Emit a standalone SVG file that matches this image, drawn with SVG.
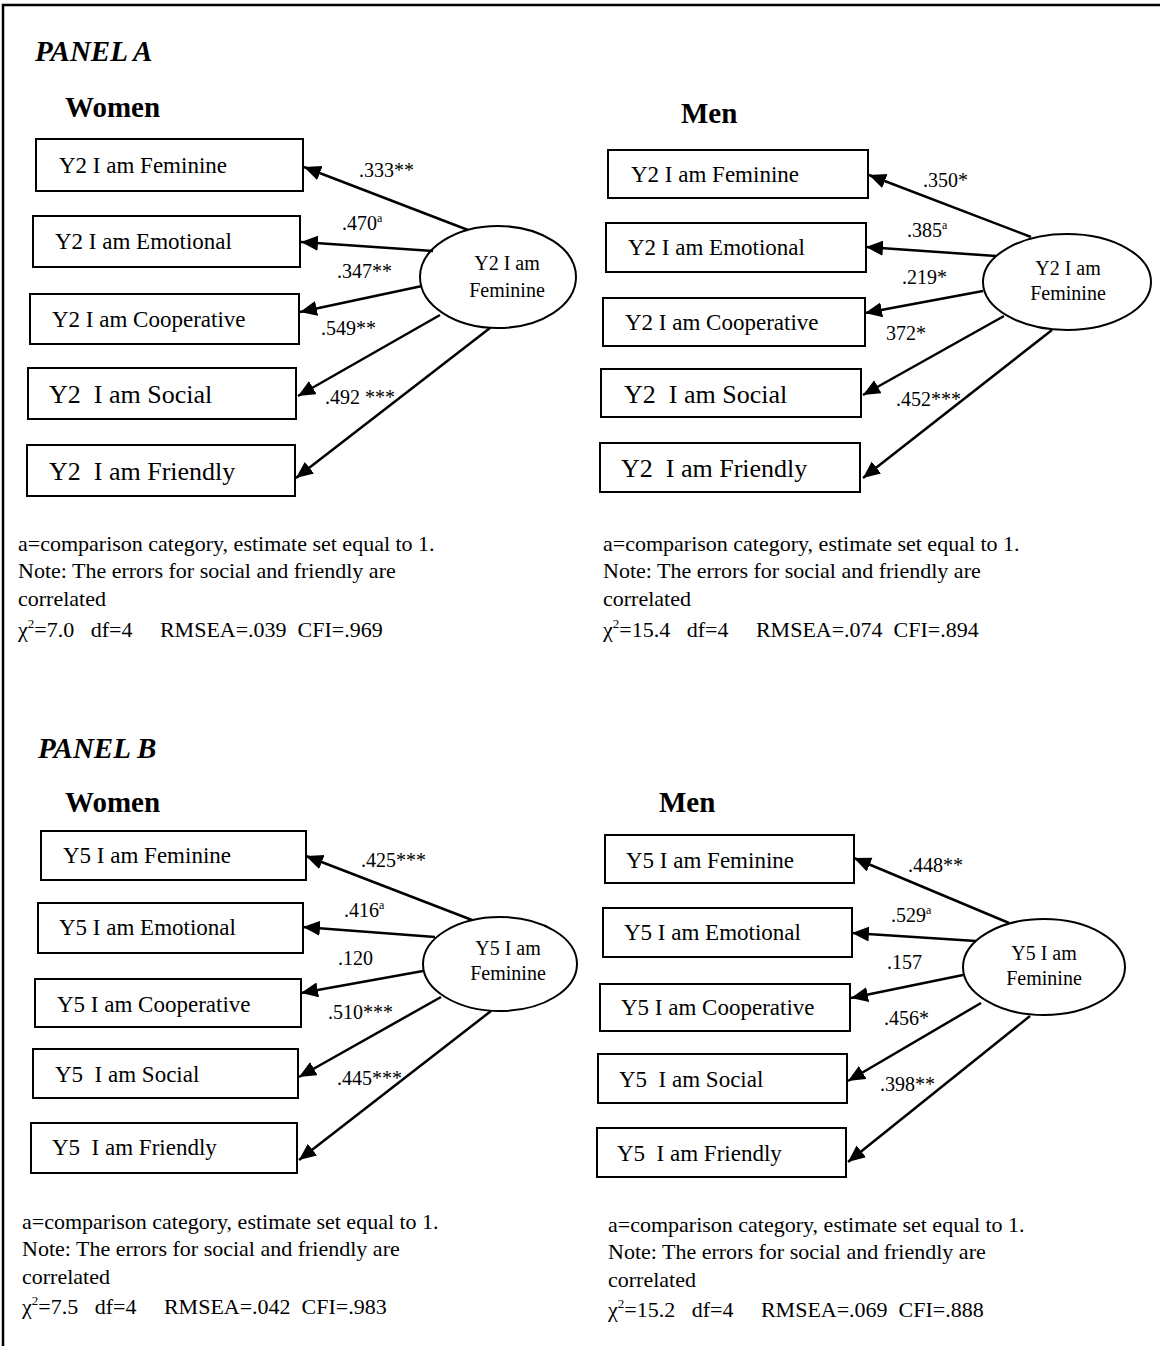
<svg xmlns="http://www.w3.org/2000/svg" width="1160" height="1346" viewBox="0 0 1160 1346">
  <style>
    .frame { fill: none; stroke: #000; stroke-width: 2.5; }
    .box { fill: #fff; stroke: #000; stroke-width: 2; }
    .lat { fill: #fff; stroke: #000; stroke-width: 2; }
    .arrow { fill: none; stroke: #000; stroke-width: 2.5; marker-end: url(#head); }
    text { font-family: "Liberation Serif", "Times New Roman", serif; fill: #000; }
    .panel { font-size: 29px; font-weight: bold; font-style: italic; }
    .group { font-size: 29px; font-weight: bold; }
    .item { font-size: 23px; }
    .item-lg { font-size: 26px; }
    .latent { font-size: 20px; text-anchor: middle; }
    .coef { font-size: 20px; }
    .sup { font-size: 12px; }
    .note { font-size: 22px; white-space: pre; }
    .chi2 { font-size: 13px; }
  </style>
  <defs>
    <marker id="head" markerUnits="userSpaceOnUse" markerWidth="18" markerHeight="16" refX="17" refY="7.5" orient="auto">
      <path d="M0,0 L17,7.5 L0,15 Z" fill="#000"/>
    </marker>
  </defs>

  <!-- outer frame: top and left rules -->
  <path class="frame" d="M3,1346 L3,5 L1160,5"/>

  <!-- ===== Panel A ===== -->
  <text class="panel" x="35" y="61">PANEL A</text>
  <text class="group" x="65" y="117">Women</text>
  <text class="group" x="681" y="123">Men</text>

  <!-- Panel A, women -->
  <g id="a-w-feminine"><rect class="box" x="36" y="139" width="267" height="52"/><text class="item" x="59" y="173">Y2 I am Feminine</text></g>
  <g id="a-w-emotional"><rect class="box" x="33" y="216" width="267" height="51"/><text class="item" x="55" y="249">Y2 I am Emotional</text></g>
  <g id="a-w-cooperative"><rect class="box" x="30" y="294" width="269" height="50"/><text class="item" x="52" y="327">Y2 I am Cooperative</text></g>
  <g id="a-w-social"><rect class="box" x="28" y="368" width="268" height="51"/><text class="item-lg" x="49" y="403" xml:space="preserve">Y2  I am Social</text></g>
  <g id="a-w-friendly"><rect class="box" x="27" y="445" width="268" height="51"/><text class="item-lg" x="49" y="480" xml:space="preserve">Y2  I am Friendly</text></g>
  <g id="a-w-latent"><ellipse class="lat" cx="498" cy="277" rx="78" ry="51"/><text class="latent" x="507" y="270">Y2 I am</text><text class="latent" x="507" y="297">Feminine</text></g>

  <!-- Panel A, men -->
  <g id="a-m-feminine"><rect class="box" x="608" y="150" width="260" height="48"/><text class="item" x="631" y="182">Y2 I am Feminine</text></g>
  <g id="a-m-emotional"><rect class="box" x="606" y="223" width="260" height="49"/><text class="item" x="628" y="255">Y2 I am Emotional</text></g>
  <g id="a-m-cooperative"><rect class="box" x="603" y="298" width="262" height="48"/><text class="item" x="625" y="330">Y2 I am Cooperative</text></g>
  <g id="a-m-social"><rect class="box" x="601" y="369" width="260" height="48"/><text class="item-lg" x="624" y="403" xml:space="preserve">Y2  I am Social</text></g>
  <g id="a-m-friendly"><rect class="box" x="600" y="443" width="260" height="49"/><text class="item-lg" x="621" y="477" xml:space="preserve">Y2  I am Friendly</text></g>
  <g id="a-m-latent"><ellipse class="lat" cx="1067" cy="282" rx="84" ry="48"/><text class="latent" x="1068" y="275">Y2 I am</text><text class="latent" x="1068" y="300">Feminine</text></g>

  <!-- ===== Panel B ===== -->
  <text class="panel" x="38" y="758">PANEL B</text>
  <text class="group" x="65" y="812">Women</text>
  <text class="group" x="659" y="812">Men</text>

  <!-- Panel B, women -->
  <g id="b-w-feminine"><rect class="box" x="41" y="831" width="265" height="49"/><text class="item" x="63" y="863">Y5 I am Feminine</text></g>
  <g id="b-w-emotional"><rect class="box" x="38" y="903" width="265" height="50"/><text class="item" x="59" y="935">Y5 I am Emotional</text></g>
  <g id="b-w-cooperative"><rect class="box" x="35" y="979" width="266" height="48"/><text class="item" x="57" y="1012">Y5 I am Cooperative</text></g>
  <g id="b-w-social"><rect class="box" x="33" y="1049" width="265" height="49"/><text class="item" x="55" y="1082" xml:space="preserve">Y5  I am Social</text></g>
  <g id="b-w-friendly"><rect class="box" x="31" y="1123" width="266" height="50"/><text class="item" x="52" y="1155" xml:space="preserve">Y5  I am Friendly</text></g>
  <g id="b-w-latent"><ellipse class="lat" cx="500" cy="964" rx="77" ry="47"/><text class="latent" x="508" y="955">Y5 I am</text><text class="latent" x="508" y="980">Feminine</text></g>

  <!-- Panel B, men -->
  <g id="b-m-feminine"><rect class="box" x="605" y="835" width="249" height="48"/><text class="item" x="626" y="868">Y5 I am Feminine</text></g>
  <g id="b-m-emotional"><rect class="box" x="603" y="908" width="249" height="49"/><text class="item" x="624" y="940">Y5 I am Emotional</text></g>
  <g id="b-m-cooperative"><rect class="box" x="600" y="984" width="250" height="47"/><text class="item" x="621" y="1015">Y5 I am Cooperative</text></g>
  <g id="b-m-social"><rect class="box" x="598" y="1054" width="249" height="49"/><text class="item" x="619" y="1087" xml:space="preserve">Y5  I am Social</text></g>
  <g id="b-m-friendly"><rect class="box" x="597" y="1128" width="249" height="49"/><text class="item" x="617" y="1161" xml:space="preserve">Y5  I am Friendly</text></g>
  <g id="b-m-latent"><ellipse class="lat" cx="1044" cy="967" rx="81" ry="48"/><text class="latent" x="1044" y="960">Y5 I am</text><text class="latent" x="1044" y="985">Feminine</text></g>

  <!-- loadings: latent factor to indicators -->
  <g id="connectors">
    <line class="arrow" x1="468" y1="230" x2="304" y2="167"/>
    <line class="arrow" x1="433" y1="251" x2="301" y2="242"/>
    <line class="arrow" x1="422" y1="286" x2="300" y2="312"/>
    <line class="arrow" x1="440" y1="315" x2="298" y2="396"/>
    <line class="arrow" x1="490" y1="328" x2="296" y2="478"/>

    <line class="arrow" x1="1031" y1="237" x2="869" y2="175"/>
    <line class="arrow" x1="996" y1="256" x2="866" y2="247"/>
    <line class="arrow" x1="983" y1="291" x2="865" y2="313"/>
    <line class="arrow" x1="1004" y1="316" x2="863" y2="395"/>
    <line class="arrow" x1="1052" y1="330" x2="863" y2="478"/>

    <line class="arrow" x1="472" y1="920" x2="306" y2="856"/>
    <line class="arrow" x1="435" y1="937" x2="303" y2="927"/>
    <line class="arrow" x1="423" y1="971" x2="301" y2="993"/>
    <line class="arrow" x1="441" y1="997" x2="299" y2="1077"/>
    <line class="arrow" x1="491" y1="1011" x2="299" y2="1160"/>

    <line class="arrow" x1="1009" y1="923" x2="854" y2="858"/>
    <line class="arrow" x1="976" y1="941" x2="852" y2="933"/>
    <line class="arrow" x1="963" y1="975" x2="851" y2="998"/>
    <line class="arrow" x1="981" y1="1003" x2="848" y2="1081"/>
    <line class="arrow" x1="1030" y1="1016" x2="848" y2="1162"/>
  </g>

  <!-- loading estimates -->
  <g id="estimates">
    <text class="coef" x="359" y="177">.333**</text>
    <text class="coef" x="342" y="230">.470<tspan class="sup" dy="-8">a</tspan></text>
    <text class="coef" x="337" y="278">.347**</text>
    <text class="coef" x="321" y="335">.549**</text>
    <text class="coef" x="325" y="404">.492 ***</text>

    <text class="coef" x="923" y="187">.350*</text>
    <text class="coef" x="907" y="237">.385<tspan class="sup" dy="-8">a</tspan></text>
    <text class="coef" x="902" y="284">.219*</text>
    <text class="coef" x="886" y="340">372*</text>
    <text class="coef" x="896" y="406">.452***</text>

    <text class="coef" x="361" y="867">.425***</text>
    <text class="coef" x="344" y="917">.416<tspan class="sup" dy="-8">a</tspan></text>
    <text class="coef" x="338" y="965">.120</text>
    <text class="coef" x="328" y="1019">.510***</text>
    <text class="coef" x="337" y="1085">.445***</text>

    <text class="coef" x="908" y="872">.448**</text>
    <text class="coef" x="891" y="922">.529<tspan class="sup" dy="-8">a</tspan></text>
    <text class="coef" x="887" y="969">.157</text>
    <text class="coef" x="884" y="1025">.456*</text>
    <text class="coef" x="880" y="1091">.398**</text>
  </g>

  <!-- model notes and fit statistics -->
  <g id="notes">
    <text class="note" x="18" y="551">a=comparison category, estimate set equal to 1.</text>
    <text class="note" x="18" y="578">Note: The errors for social and friendly are</text>
    <text class="note" x="18" y="606">correlated</text>
    <text class="note" x="18" y="637" xml:space="preserve">χ<tspan class="chi2" dy="-9">2</tspan><tspan dy="9">=7.0   df=4     RMSEA=.039  CFI=.969</tspan></text>

    <text class="note" x="603" y="551">a=comparison category, estimate set equal to 1.</text>
    <text class="note" x="603" y="578">Note: The errors for social and friendly are</text>
    <text class="note" x="603" y="606">correlated</text>
    <text class="note" x="603" y="637" xml:space="preserve">χ<tspan class="chi2" dy="-9">2</tspan><tspan dy="9">=15.4   df=4     RMSEA=.074  CFI=.894</tspan></text>

    <text class="note" x="22" y="1229">a=comparison category, estimate set equal to 1.</text>
    <text class="note" x="22" y="1256">Note: The errors for social and friendly are</text>
    <text class="note" x="22" y="1284">correlated</text>
    <text class="note" x="22" y="1314" xml:space="preserve">χ<tspan class="chi2" dy="-9">2</tspan><tspan dy="9">=7.5   df=4     RMSEA=.042  CFI=.983</tspan></text>

    <text class="note" x="608" y="1232">a=comparison category, estimate set equal to 1.</text>
    <text class="note" x="608" y="1259">Note: The errors for social and friendly are</text>
    <text class="note" x="608" y="1287">correlated</text>
    <text class="note" x="608" y="1317" xml:space="preserve">χ<tspan class="chi2" dy="-9">2</tspan><tspan dy="9">=15.2   df=4     RMSEA=.069  CFI=.888</tspan></text>
  </g>
</svg>
